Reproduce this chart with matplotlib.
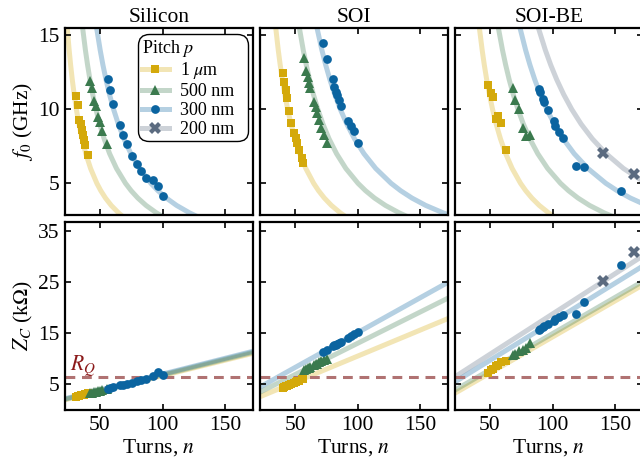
import numpy as np
import matplotlib.pyplot as plt
from matplotlib.lines import Line2D
from matplotlib.colors import to_rgba

plt.rcParams['font.family'] = ['Liberation Serif', 'DejaVu Serif']
plt.rcParams['mathtext.fontset'] = 'stix'

materials = ['Silicon', 'SOI', 'SOI-BE']
pitches = ['1 $\\mu$m', '500 nm', '300 nm', '200 nm']
colors = ['#d4a90b', '#3b7a4e', '#0b64a0', '#5b6b80']
markers = ['s', '^', 'o', 'X']
msizes = [6, 7, 6.3, 8.5]

# measured devices: turns n, resonance f0 (GHz), impedance Zc (kOhm)
n_si_1um = [30.5, 32.1, 33.5, 34.5, 35.3, 36.1, 37.2, 38.0, 40.4]
f_si_1um = [10.9, 10.3, 9.3, 9.0, 8.6, 8.26, 7.9, 7.6, 6.93]
z_si_1um = [2.6, 2.7, 2.8, 2.85, 2.9, 2.95, 3.0, 3.1, 3.25]
n_si_500 = [42.0, 43.6, 45.5, 46.5, 48.7, 49.7, 51.6, 55.4]
f_si_500 = [11.9, 11.46, 10.56, 10.2, 9.46, 9.16, 8.53, 7.64]
z_si_500 = [3.3, 3.4, 3.55, 3.6, 3.75, 3.8, 3.9, 4.15]
n_si_300 = [56.4, 58.3, 60.7, 66.0, 68.1, 71.9, 75.3, 79.9, 82.8, 86.8, 92.1, 96.7, 100.1]
f_si_300 = [12.05, 11.3, 10.34, 8.94, 8.24, 7.64, 6.85, 6.28, 5.85, 5.38, 5.2, 4.84, 4.14]
z_si_300 = [4.2, 4.35, 4.45, 4.8, 4.9, 5.15, 5.35, 5.6, 5.8, 6.05, 6.6, 7.4, 6.9]

n_soi_1um = [40.2, 41.2, 42.5, 43.6, 45.0, 47.0, 49.0, 50.5, 51.6, 53.0, 55.3, 56.2]
f_soi_1um = [12.43, 11.86, 11.3, 10.78, 9.9, 9.1, 8.38, 8.04, 7.7, 7.25, 6.73, 6.39]
z_soi_1um = [4.4, 4.5, 4.65, 4.75, 4.9, 5.1, 5.3, 5.5, 5.6, 5.75, 6.0, 6.1]
n_soi_500 = [57.2, 59.0, 60.2, 61.4, 62.3, 65.2, 66.6, 67.6, 69.4, 71.1, 73.5, 75.3]
f_soi_500 = [13.49, 12.6, 12.16, 11.76, 11.42, 10.51, 10.14, 9.77, 9.28, 8.72, 8.26, 7.74]
z_soi_500 = [7.8, 8.0, 8.15, 8.3, 8.4, 8.75, 8.95, 9.05, 9.3, 9.5, 9.8, 10.0]
n_soi_300 = [72.4, 75.3, 80.4, 81.5, 82.5, 83.6, 85.2, 86.8, 92.1, 94.8, 97.2, 100.1]
f_soi_300 = [14.46, 13.38, 12.05, 11.53, 11.19, 10.97, 10.63, 10.22, 9.21, 8.87, 8.53, 7.74]
z_soi_300 = [11.4, 11.8, 12.5, 12.65, 12.8, 12.95, 13.2, 13.4, 14.1, 14.5, 14.8, 15.2]

n_be_1um = [48.4, 50.5, 52.1, 56.1, 54.5, 58.5, 62.5]
f_be_1um = [11.64, 11.08, 10.85, 9.57, 9.32, 9.1, 7.25]
z_be_1um = [7.2, 7.8, 8.1, 8.9, 8.6, 9.3, 9.5]
n_be_500 = [68.1, 70.3, 73.2, 76.1, 78.8, 82.0]
f_be_500 = [11.42, 10.63, 10.0, 8.72, 8.2, 8.26]
z_be_500 = [10.7, 11.0, 11.6, 11.7, 12.2, 13.2]
n_be_300 = [89.2, 90.0, 92.1, 93.5, 96.1, 101.2, 101.7, 105.2, 108.1, 118.8, 125.2, 155.1]
f_be_300 = [11.35, 11.15, 10.68, 10.51, 9.95, 9.23, 8.87, 8.49, 8.04, 6.17, 6.08, 4.5]
z_be_300 = [15.6, 15.8, 16.2, 16.5, 16.9, 17.4, 17.8, 18.2, 18.6, 18.7, 21.1, 28.4]
n_be_200 = [140.1, 165.0]
f_be_200 = [7.07, 5.63]
z_be_200 = [25.3, 31.0]

# model curves: f0 levels and the turns where each curve crosses them
f_levels = [15.5, 14, 13, 12, 11, 10, 9, 8, 7, 6, 5, 4.5, 4, 3.5, 3, 2.8]
nc_si = [
    [23.8, 25.33, 26.5, 27.82, 29.34, 31.09, 33.16, 35.63, 38.65, 42.46, 47.46, 50.61, 54.38, 58.99, 64.81, 67.59],
    [36.1, 38.33, 40.05, 41.98, 44.2, 46.75, 49.75, 53.33, 57.7, 63.2, 70.37, 74.89, 80.28, 86.86, 95.12, 99.08],
    [47.3, 50.15, 52.33, 54.8, 57.61, 60.86, 64.66, 69.19, 74.71, 81.63, 90.66, 96.32, 103.07, 111.3, 121.61, 126.52],
]
nc_soi = [
    [34.6, 36.61, 38.16, 39.89, 41.87, 44.15, 46.81, 49.98, 53.83, 58.65, 64.91, 68.82, 73.48, 79.14, 86.23, 89.59],
    [53.5, 56.61, 59.0, 61.68, 64.74, 68.27, 72.38, 77.28, 83.24, 90.68, 100.36, 106.41, 113.61, 122.37, 133.33, 138.53],
    [67.6, 71.53, 74.55, 77.94, 81.8, 86.26, 91.46, 97.64, 105.17, 114.58, 126.81, 134.46, 143.56, 154.62, 168.47, 175.04],
]
nc_be = [
    [41.5, 43.74, 45.44, 47.36, 49.53, 52.03, 54.94, 58.38, 62.54, 67.72, 74.4, 78.56, 83.48, 89.44, 96.84, 100.35],
    [56.7, 60.0, 62.53, 65.37, 68.61, 72.35, 76.71, 81.9, 88.21, 96.11, 106.36, 112.78, 120.41, 129.69, 141.3, 146.82],
    [74.0, 78.5, 81.95, 85.84, 90.29, 95.42, 101.43, 108.6, 117.34, 128.32, 142.64, 151.63, 162.34, 175.42, 191.82, 199.65],
    [88.7, 94.29, 98.57, 103.42, 108.97, 115.38, 122.91, 131.91, 142.9, 156.76, 174.88, 186.31, 199.93, 216.61, 237.59, 247.64],
]

# impedance model lines: Zc at n = 22 and n = 172.4
n_line = [22, 172.4]
zl_si = [[2.0, 11.1], [2.1, 11.3], [2.2, 11.5]]
zl_soi = [[2.6, 17.9], [3.5, 21.9], [4.5, 25.0]]
zl_be = [[3.3, 24.5], [3.9, 25.2], [5.5, 28.2], [6.5, 30.2]]
R_Q = 6.45

panels = [
    ([n_si_1um, n_si_500, n_si_300], [f_si_1um, f_si_500, f_si_300],
     [z_si_1um, z_si_500, z_si_300], nc_si, zl_si),
    ([n_soi_1um, n_soi_500, n_soi_300], [f_soi_1um, f_soi_500, f_soi_300],
     [z_soi_1um, z_soi_500, z_soi_300], nc_soi, zl_soi),
    ([n_be_1um, n_be_500, n_be_300, n_be_200], [f_be_1um, f_be_500, f_be_300, f_be_200],
     [z_be_1um, z_be_500, z_be_300, z_be_200], nc_be, zl_be),
]

fig = plt.figure(figsize=(6.4, 4.66), dpi=100)
W, H = 640, 466
lefts = [65, 260, 455]
fs = 15.5
lw_curve = 3.6

for j, (ns, fsr, zs, ncs, zls) in enumerate(panels):
    axt = fig.add_axes([lefts[j] / W, 1 - 215.5 / H, 188 / W, 188 / H])
    axb = fig.add_axes([lefts[j] / W, 1 - 410 / H, 188 / W, 188 / H])
    for k in range(len(ns)):
        c = colors[k]
        axt.plot(ncs[k], f_levels, color=c, alpha=0.3, lw=lw_curve, zorder=1)
        axt.plot(ns[k], fsr[k], ls='none', marker=markers[k], ms=msizes[k],
                 color=c, mew=0, zorder=3)
        axb.plot(n_line, zls[k], color=c, alpha=0.3, lw=lw_curve, zorder=1)
        axb.plot(ns[k], zs[k], ls='none', marker=markers[k], ms=msizes[k],
                 color=c, mew=0, zorder=3)
    axb.axhline(R_Q, color='#b07272', lw=2.2, ls=(0, (3.2, 2.2)), zorder=2)

    axt.set_xlim(22, 172.4)
    axb.set_xlim(22, 172.4)
    axt.set_ylim(2.82, 15.53)
    axb.set_ylim(0, 36.8)
    axt.set_yticks([5, 10, 15])
    axb.set_yticks([5, 15, 25, 35])
    for ax in (axt, axb):
        ax.set_xticks([50, 100, 150])
        ax.tick_params(direction='in', top=True, right=True, length=4,
                       width=1.2, labelsize=fs, pad=4)
        for s in ax.spines.values():
            s.set_linewidth(1.6)
    axt.tick_params(labelbottom=False)
    if j > 0:
        axt.tick_params(labelleft=False)
        axb.tick_params(labelleft=False)
    else:
        axt.set_ylabel('$f_0$ (GHz)', fontsize=fs, labelpad=2)
        axb.set_ylabel('$Z_C$ (k$\\Omega$)', fontsize=fs, labelpad=2)
        axb.text(26, 7.7, '$R_Q$', color='#8b1a1a', fontsize=fs)
        handles = [Line2D([], [], color=to_rgba(colors[k], 0.3), lw=lw_curve,
                          marker=markers[k], ms=msizes[k], mfc=colors[k],
                          mec=colors[k], mew=0) for k in range(4)]
        leg = axt.legend(handles, pitches, title='Pitch $p$', loc='upper left',
                         bbox_to_anchor=(0.39, 0.0, 0.585, 0.9654), mode='expand',
                         fontsize=13, title_fontsize=13, alignment='left',
                         fancybox=True, framealpha=1, edgecolor='black',
                         handlelength=1.5, labelspacing=0.1, borderpad=0.2,
                         handletextpad=0.6, borderaxespad=0)
        leg.get_frame().set_linewidth(1.0)
        leg.get_frame().set_boxstyle('round', pad=0, rounding_size=0.6)
    axt.set_title(materials[j], fontsize=fs, pad=4)
    axb.set_xlabel('Turns, $n$', fontsize=fs, labelpad=2)

fig.savefig('out.png', dpi=100)
